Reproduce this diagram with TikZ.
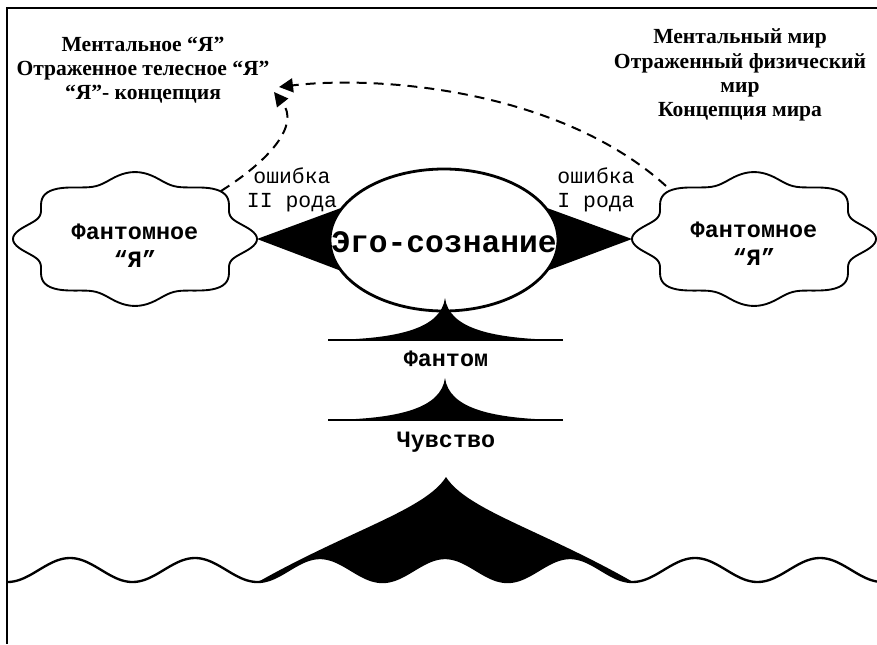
\documentclass[tikz,border=0pt]{standalone}
\usepackage{fontspec}
\setmainfont{Liberation Serif}
\newfontfamily\monofont{Liberation Mono}
\usetikzlibrary{arrows.meta,shapes.geometric,backgrounds}

\begin{document}
\begin{tikzpicture}[x=0.03cm,y=-0.03cm,caption/.style={font=\bfseries\fontsize{18.4}{20.6}\selectfont,align=center,inner sep=0},mono/.style={font=\monofont\bfseries\fontsize{20}{23.8}\selectfont,align=center,inner sep=0},errlabel/.style={font=\monofont\fontsize{18.3}{20.4}\selectfont,align=center,inner sep=0},link/.style={-{Triangle[length=4.2mm,width=4.2mm]},line width=1.7pt,dash pattern=on 8.5pt off 6pt},cloudline/.style={line width=1.6pt,fill=white},wave/.style={line width=2pt}]
\useasboundingbox (0,0) rectangle (877,644);
\draw[line width=1.7pt] (877,8) -- (7,8) -- (7,644);
\node[caption] (selfText) at (143,70) {Ментальное “Я”\\Отраженное телесное “Я”\\“Я”- концепция};
\node[caption] (worldText) at (740,75) {Ментальный мир\\Отраженный физический\\мир\\Концепция мира};
\draw[cloudline] plot[domain=0:358,samples=180,smooth cycle] ({135+113*cos(\x)*(1+0.08*cos(8*\x))},{239+62*sin(\x)*(1+0.08*cos(8*\x))});
\draw[cloudline] plot[domain=0:358,samples=180,smooth cycle] ({754+113*cos(\x)*(1+0.08*cos(8*\x))},{239+62*sin(\x)*(1+0.08*cos(8*\x))});
\node[mono] (phantomL) at (135,246) {Фантомное\\“Я”};
\node[mono] (phantomR) at (754,244) {Фантомное\\“Я”};
\coordinate (tipL) at (257,239);
\coordinate (tipR) at (632,239);
\coordinate (tailL) at (221,191);
\coordinate (tailR) at (666,186);
\coordinate (arrowL) at (274,92);
\coordinate (arrowR) at (279,87);
\node[draw,ellipse,line width=2.4pt,fill=white,minimum width=6.84cm,minimum height=4.26cm,inner sep=0] (ego) at (444,240) {};
\node[font=\monofont\bfseries\fontsize{26.7}{30}\selectfont,inner sep=0] (egoText) at (444,242) {Эго-сознание};
\begin{scope}[on background layer]
\fill (tipL) -- (ego.163) -- (ego.center) -- (ego.196) -- cycle;
\fill (tipR) -- (ego.17) -- (ego.center) -- (ego.-16) -- cycle;
\end{scope}
\node[errlabel] (errII) at (292,190) {ошибка\\II рода};
\node[errlabel] (errI) at (596,190) {ошибка\\I рода};
\draw[link] (tailL) .. controls (270,160) and (300,125) .. (arrowL);
\draw[link] (tailR) .. controls (560,90) and (380,75) .. (arrowR);
\fill (328,340) .. controls (400,339) and (441,328) .. (445,298) .. controls (449,328) and (490,339) .. (563,340) -- cycle;
\draw[line width=1pt] (328,340) -- (563,340);
\node[mono] (phantom) at (446,359) {Фантом};
\fill (328,420) .. controls (400,419) and (441,408) .. (445,378) .. controls (449,408) and (490,419) .. (563,420) -- cycle;
\draw[line width=1pt] (328,420) -- (563,420);
\node[mono] (feeling) at (446,442) {Чувство};
\fill (258,582) .. controls (350,530) and (425,510) .. (446,477) .. controls (467,510) and (542,530) .. (633,582) -- plot[domain=633:258,samples=120] (\x,{570-12*cos(2.88*(\x-70))}) -- cycle;
\draw[wave] plot[domain=8:877,samples=300,smooth] (\x,{570-12*cos(2.88*(\x-70))});
\end{tikzpicture}
\end{document}
